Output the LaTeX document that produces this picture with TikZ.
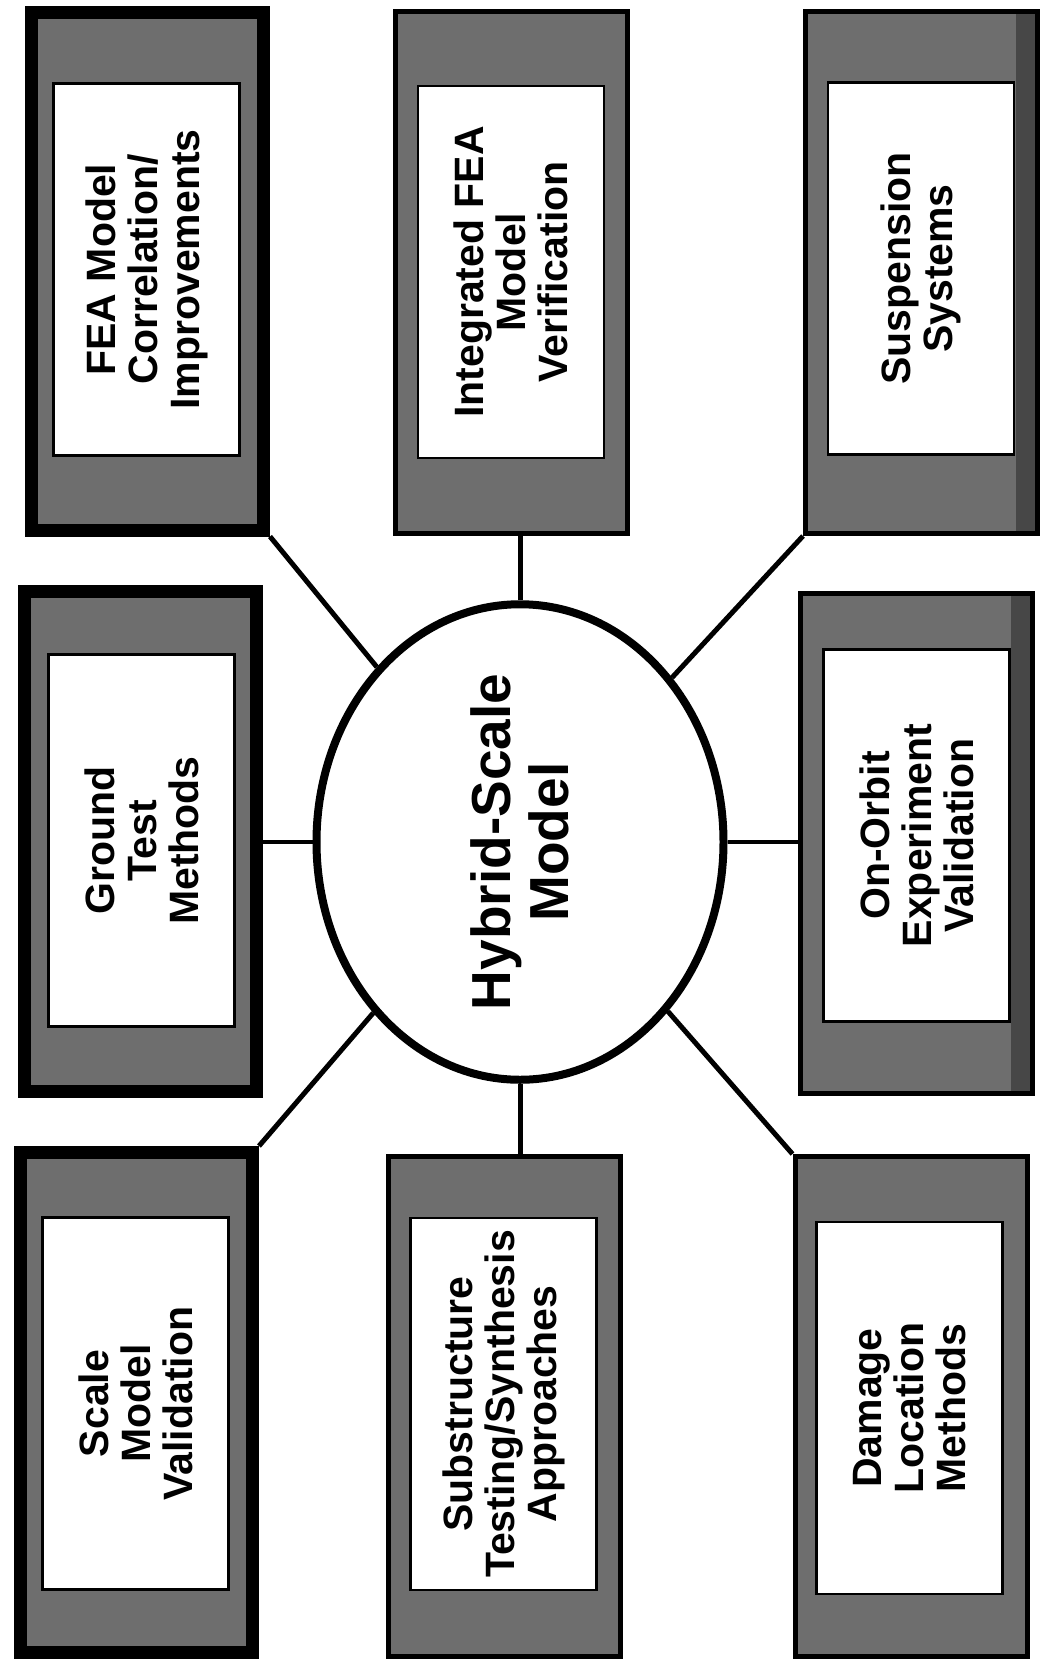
\documentclass[tikz,border=0pt]{standalone}
\usepackage{fontspec}
\setmainfont{Liberation Sans}
\usetikzlibrary{shapes.geometric}

\tikzset{
  tile/.style={draw, fill=black!57, line width=2.5pt, inner sep=0pt, minimum width=116pt, minimum height=250pt},
  heavy/.style={tile, line width=6.5pt},
  shadowed/.style={path picture={\fill[black!72] ([xshift=-11pt]path picture bounding box.north east) rectangle (path picture bounding box.south east);}},
  card/.style={draw, fill=white, line width=1.2pt, rotate=90, inner sep=0pt, minimum width=186pt, minimum height=93pt, align=center, font=\bfseries\fontsize{20.5pt}{21pt}\selectfont},
  spoke/.style={line width=2.5pt},
  rung/.style={line width=1.6pt},
}

\begin{document}
\begin{tikzpicture}[x=0.5pt, y=-0.5pt]
                \fill[white] (0,0) rectangle (1043,1660);

                % top row
                \node[heavy, minimum height=259pt] (fea) at (147.5,271) {};
                \node[card] (featext) at (146.5,269.5) {FEA Model\\Correlation/\\Improvements};
                \node[tile, minimum height=261pt] (integ) at (511.5,272) {};
                \node[card] (integtext) at (511,272) {Integrated FEA\\Model\\Verification};
                \node[tile, shadowed, minimum height=261pt] (susp) at (921.5,272.5) {};
                \node[card] (susptext) at (921,268.5) {Suspension\\Systems};

                % middle row
                \node[heavy] (ground) at (140.5,841) {};
                \node[card] (groundtext) at (141.5,840.5) {Ground\\Test\\Methods};
                \node[draw, fill=white, ellipse, line width=4pt, rotate=90, inner sep=0pt, minimum width=218pt, minimum height=203.5pt, align=center, font=\bfseries\fontsize{27.5pt}{29pt}\selectfont] (hub) at (520,842) {Hybrid-Scale\\Model};
                \node[tile, shadowed] (orbit) at (916.5,843.5) {};
                \node[card] (orbittext) at (916.5,835.5) {On-Orbit\\Experiment\\Validation};

                % bottom row
                \node[heavy] (scale) at (136.5,1402.5) {};
                \node[card] (scaletext) at (135.5,1403.5) {Scale\\Model\\Validation};
                \node[tile] (subst) at (504,1406.5) {};
                \node[card] (substtext) at (503.5,1404) {Substructure\\Testing/Synthesis\\Approaches};
                \node[tile] (damage) at (911,1406.5) {};
                \node[card] (damagetext) at (909.5,1408) {Damage\\Location\\Methods};

                % spokes to the hub
                \draw[spoke] (fea.south east) -- (hub);
                \draw[spoke] (hub) -- (hub |- integ.south);
                \draw[spoke] (susp.south west) -- (hub);
                \draw[rung] (hub) -- (hub -| ground.east);
                \draw[rung] (hub) -- (hub -| orbit.west);
                \draw[spoke] (scale.north east) -- (hub);
                \draw[spoke] (hub) -- (hub |- subst.north);
                \draw[spoke] (damage.north west) -- (hub);
            \end{tikzpicture}
\end{document}
